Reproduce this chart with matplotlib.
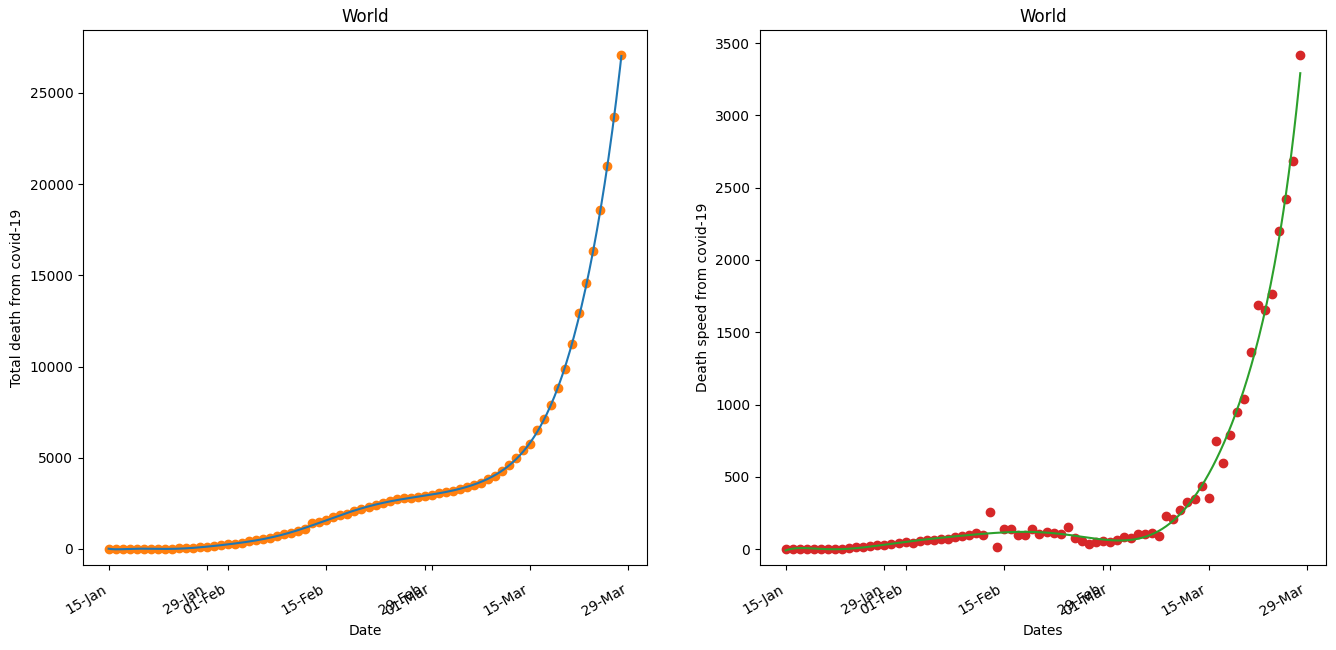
import numpy as np
import pandas as pd
import matplotlib
matplotlib.use('Agg')
import matplotlib.pyplot as plt
import matplotlib.dates as mdates

# World covid-19 deaths, one value per day from 2020-01-15
start_date = '2020-01-15'

total_deaths = [
    0, 0, 1, 1, 1, 1, 4, 4, 4, 12,
    28, 43, 67, 93, 119, 157, 200, 246, 291, 348,
    412, 478, 551, 624, 710, 799, 896, 1004, 1101, 1440,
    1460, 1600, 1740, 1835, 1930, 2070, 2175, 2295, 2405, 2505,
    2655, 2730, 2790, 2820, 2870, 2930, 2980, 3040, 3120, 3195,
    3300, 3400, 3510, 3600, 3825, 4025, 4300, 4620, 4965, 5400,
    5750, 6524, 7127, 7877, 8808, 9850, 11239, 12920, 14565, 16337,
    18569, 20997, 23668, 27083,
]

daily_deaths = [
    0, 0, 1, 0, 0, 0, 3, 0, 0, 8,
    16, 15, 24, 26, 26, 38, 43, 46, 45, 57,
    64, 66, 73, 73, 86, 89, 97, 108, 97, 254,
    12, 138, 138, 97, 97, 138, 104, 120, 108, 101,
    150, 74, 58, 32, 51, 58, 51, 62, 81, 74,
    104, 104, 108, 92, 228, 207, 270, 325, 344, 436,
    350, 745, 593, 786, 945, 1035, 1360, 1687, 1657, 1761,
    2199, 2418, 2683, 3414,
]

dates = pd.date_range(start_date, periods=len(daily_deaths))


def poly_curve(y, deg):
    # smooth polynomial fit over the day index
    n = len(y)
    t = np.arange(n) / (n - 1)
    coefs = np.polyfit(t, y, deg)
    tt = np.linspace(0, 1, 400)
    xx = mdates.date2num(dates[0]) + tt * (n - 1)
    return xx, np.polyval(coefs, tt)


fig = plt.figure(figsize=(13.36, 6.5), dpi=100)
W, H = 1336, 650
ax1 = fig.add_axes([83 / W, 85 / H, 564 / W, 535 / H])
ax2 = fig.add_axes([760 / W, 85 / H, 566 / W, 535 / H])

ax1.scatter(dates, total_deaths, color='C1')
xx, yy = poly_curve(total_deaths, 12)
ax1.plot(xx, yy, color='C0')
ax1.set_title('World')
ax1.set_xlabel('Date')
ax1.set_ylabel('Total death from covid-19')
ax1.set_ylim(-880, 28450)

ax2.scatter(dates, daily_deaths, color='C3')
xx, yy = poly_curve(daily_deaths, 9)
ax2.plot(xx, yy, color='C2')
ax2.set_title('World')
ax2.set_xlabel('Dates')
ax2.set_ylabel('Death speed from covid-19')
ax2.set_ylim(-110, 3590)

for ax in (ax1, ax2):
    ax.xaxis.set_major_locator(mdates.DayLocator(bymonthday=[1, 15, 29]))
    ax.xaxis.set_major_formatter(mdates.DateFormatter('%d-%b'))
    ax.tick_params(axis='x', pad=9)
    for lbl in ax.get_xticklabels():
        lbl.set_rotation(30)
        lbl.set_ha('right')

plt.savefig('out.png')
